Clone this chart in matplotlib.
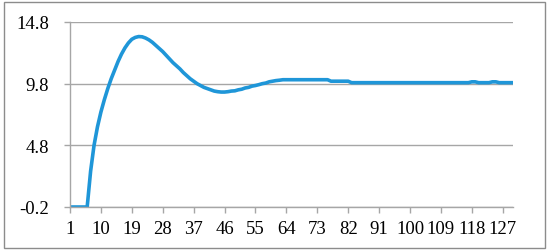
import matplotlib
matplotlib.use("Agg")
import matplotlib.pyplot as plt
from matplotlib.patches import Rectangle
import numpy as np

# data
rise = [-0.2, -0.2, -0.2, -0.2, -0.2, -0.2, 2.7, 4.8, 6.3, 7.5, 8.5, 9.4, 10.2, 10.9,
        11.6, 12.2, 12.7, 13.1, 13.4, 13.55, 13.62, 13.6, 13.5, 13.35, 13.15, 12.9,
        12.65, 12.4, 12.1, 11.8, 11.5, 11.25, 11.0, 10.7, 10.45, 10.2, 10.0, 9.8,
        9.65, 9.5, 9.4, 9.3, 9.2, 9.15, 9.12, 9.12, 9.15, 9.2, 9.22, 9.3, 9.35,
        9.45, 9.5, 9.6, 9.65, 9.72, 9.8, 9.85, 9.95, 10.0, 10.05, 10.08, 10.12]
plateau = [10.12] * 13          # steps 64-76
step = [10.0] * 6               # steps 77-82
tail = [9.88] * 35 + [9.95, 9.95] + [9.88] * 4 + [9.95, 9.95] + [9.88] * 5  # 83-130
values = rise + plateau + step + tail
steps = list(range(1, len(values) + 1))
x_ticks = list(range(1, 128, 9))
y_ticks = [-0.2, 4.8, 9.8, 14.8]

plt.rcParams['font.family'] = ['Liberation Serif', 'DejaVu Serif']

fig = plt.figure(figsize=(5.5, 2.53), dpi=100)
ax = fig.add_axes([70/550, 1-208/253, (513-70)/550, (208-23)/253])

ax.plot(steps, values, color='#1F96D8', lw=2.6, solid_joinstyle='round')

ax.set_xlim(1, len(values))
ax.set_ylim(-0.2, 14.8)
ax.set_xticks(x_ticks)
ax.set_xticklabels([str(t) for t in x_ticks])
ax.set_yticks(y_ticks)
ax.set_yticklabels(['-0.2', '4.8', '9.8', '14.8'])
ax.yaxis.grid(True, color='#A6A6A6', lw=1.0)
ax.set_axisbelow(True)
for s in ['top', 'right']:
    ax.spines[s].set_visible(False)
for s in ['left', 'bottom']:
    ax.spines[s].set_color('#A6A6A6')
    ax.spines[s].set_linewidth(1.0)
ax.tick_params(axis='both', colors='#A6A6A6', labelcolor='black', labelsize=13.5,
               length=4, width=1.0)
ax.tick_params(axis='y', pad=11)
ax.tick_params(axis='x', pad=5)

fig.patches.append(Rectangle((4/550, 1-249/253), (545-4)/550, (249-3)/253,
                             transform=fig.transFigure, fill=False,
                             edgecolor='#8C8C8C', lw=1.0))

fig.savefig('out.png', dpi=100)
